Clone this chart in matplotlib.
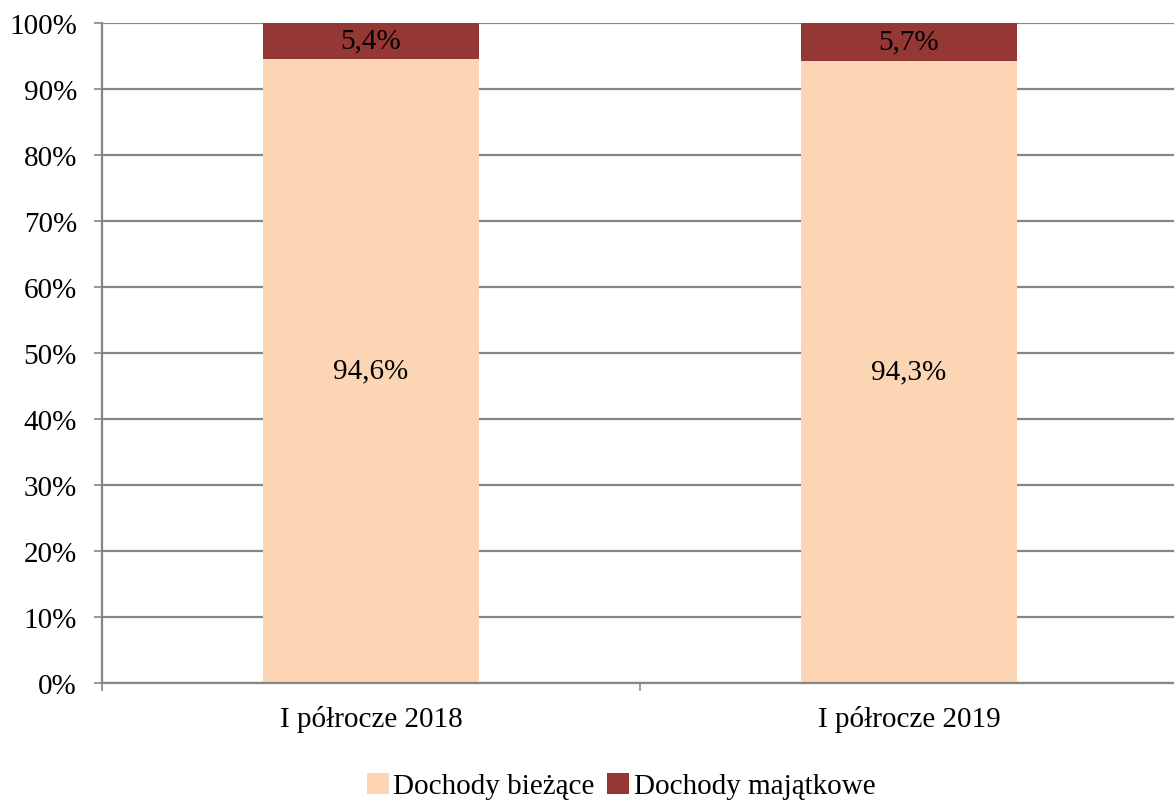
import matplotlib
matplotlib.use("Agg")
import matplotlib.pyplot as plt
import numpy as np

categories = ["I półrocze 2018", "I półrocze 2019"]
biezace = [94.6, 94.3]
majatkowe = [5.4, 5.7]
series_names = ["Dochody bieżące", "Dochody majątkowe"]
yticks = list(range(0, 101, 10))

plt.rcParams['font.family'] = ['Liberation Serif', 'DejaVu Serif']

FS = 21
W, H = 1174, 803
fig = plt.figure(figsize=(W / 100, H / 100), dpi=100)
left, right, top, bottom = 102, 1178, 24, 684
ax = fig.add_axes([left / W, 1 - bottom / H, (right - left) / W, (bottom - top) / H])

c1 = "#FCD5B5"
c2 = "#953735"
x = np.arange(len(categories))
bw = 0.40
b1 = ax.bar(x, biezace, width=bw, color=c1, label=series_names[0], zorder=2)
b2 = ax.bar(x, majatkowe, width=bw, bottom=biezace, color=c2, label=series_names[1], zorder=2)

fmt = lambda v: f"{v:.1f}%".replace(".", ",")
for i in range(len(categories)):
    ax.text(x[i], biezace[i] / 2, fmt(biezace[i]), ha="center", va="center", fontsize=FS, zorder=3)
    ax.text(x[i], biezace[i] + majatkowe[i] / 2, fmt(majatkowe[i]), ha="center", va="center", fontsize=FS, zorder=3)

ax.set_xlim(-0.5, len(categories) - 0.5)
ax.set_ylim(0, 100)
ax.set_yticks(yticks)
ax.set_yticklabels([f"{t}%" for t in yticks], fontsize=FS)
ax.yaxis.grid(True, color="#868686", linewidth=1.6, zorder=0)
ax.set_axisbelow(True)

ax.set_xticks(x)
ax.set_xticklabels(categories, fontsize=FS)
ax.tick_params(axis="x", length=0, pad=16)
ax.set_xticks(np.arange(-0.5, len(categories)), minor=True)
ax.tick_params(axis="x", which="minor", length=6, width=1.2, color="#868686")
ax.tick_params(axis="y", length=6, width=1.2, color="#868686", pad=12)

for s in ["top", "right"]:
    ax.spines[s].set_visible(False)
ax.spines["left"].set_color("#868686")
ax.spines["left"].set_linewidth(1.6)
ax.spines["bottom"].set_color("#868686")
ax.spines["bottom"].set_linewidth(1.6)

fig.legend(handles=[b1, b2], labels=series_names, loc="center", bbox_to_anchor=(621 / W, 1 - 787 / H),
           ncol=2, frameon=False, fontsize=FS, handlelength=0.75, handleheight=0.75,
           handletextpad=0.15, columnspacing=0.45, borderaxespad=0, borderpad=0)

fig.savefig("out.png", dpi=100)
